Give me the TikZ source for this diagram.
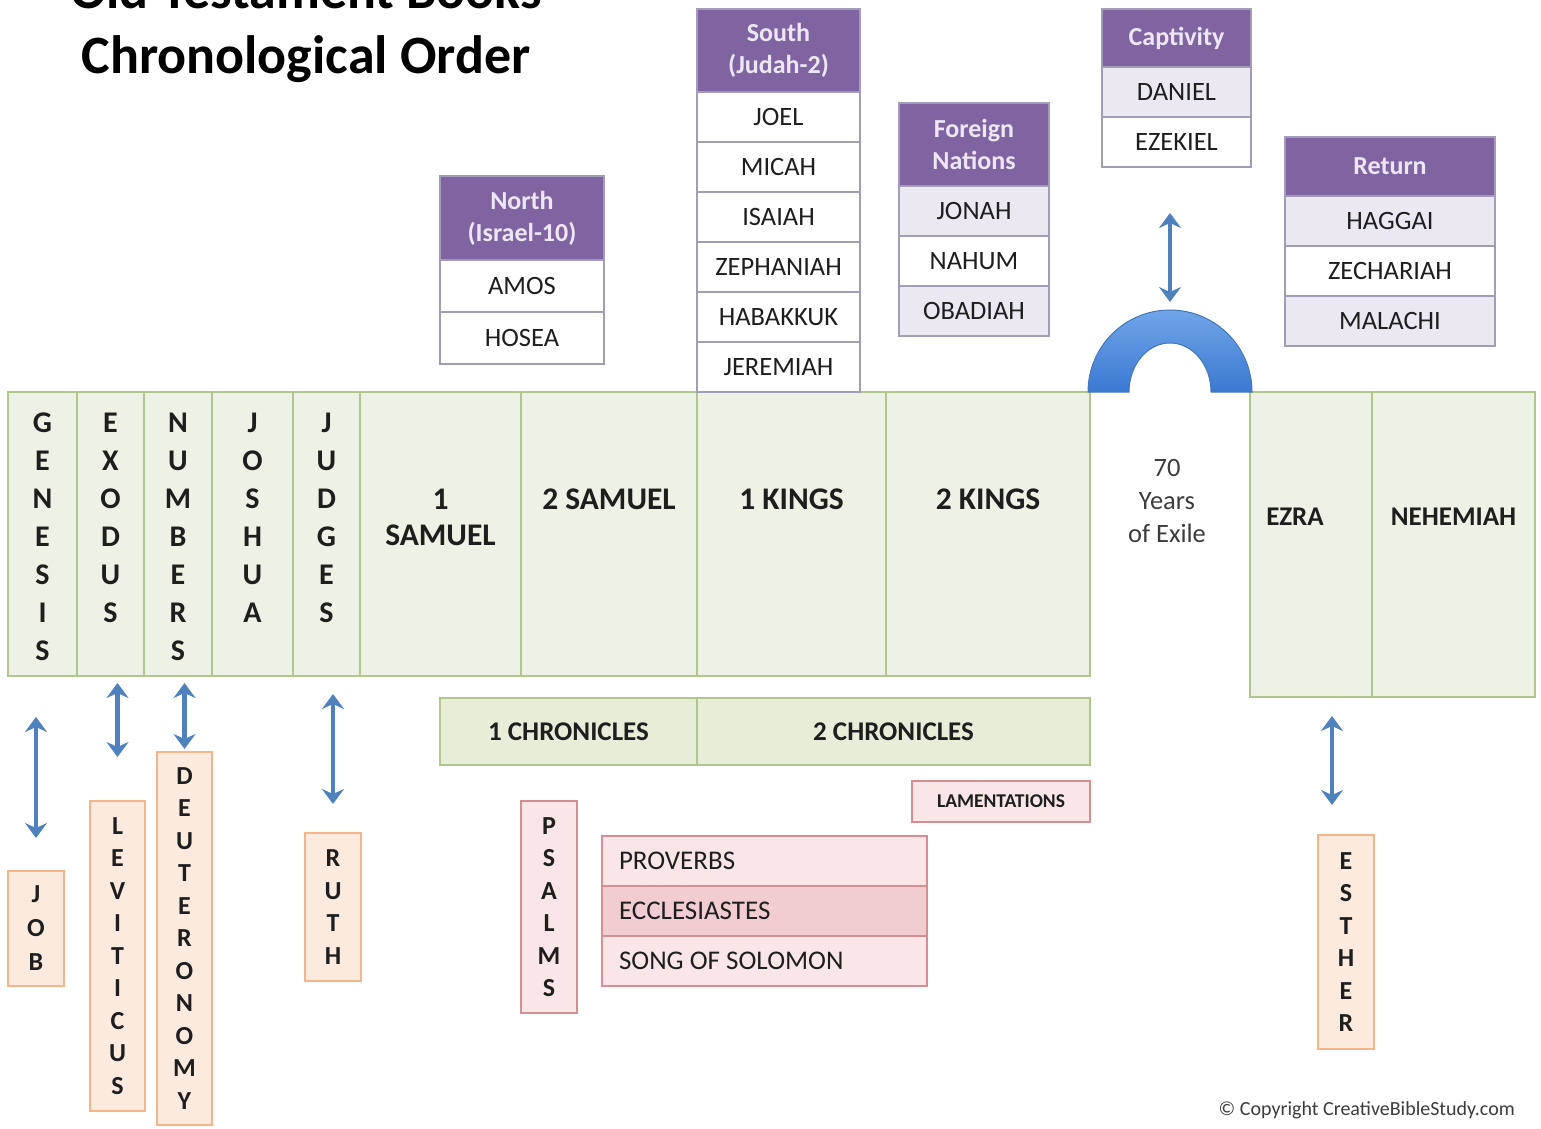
\documentclass[tikz,border=0pt]{standalone}
\usepackage{fontspec}
\setmainfont{Carlito}
\usepackage{tikz}
\usetikzlibrary{arrows.meta,positioning,shadings}
\definecolor{bandfill}{HTML}{EEF1E5}
\definecolor{banddraw}{HTML}{B0C68A}
\definecolor{chronfill}{HTML}{E7EDD9}
\definecolor{purplehdr}{HTML}{8064A2}
\definecolor{hdrtext}{HTML}{EDE7F5}
\definecolor{tabledraw}{HTML}{A29DB6}
\definecolor{lavrow}{HTML}{EBE8F1}
\definecolor{pinkfill}{HTML}{FBE6E7}
\definecolor{pinkdark}{HTML}{F1CDD1}
\definecolor{pinkdraw}{HTML}{D58E93}
\definecolor{orangefill}{HTML}{FDEADF}
\definecolor{orangedraw}{HTML}{F3B589}
\definecolor{arrowblue}{HTML}{4F81BD}
\definecolor{archlight}{HTML}{70A5E8}
\definecolor{archdark}{HTML}{3A79D2}
\definecolor{archedge}{HTML}{4676B8}
\definecolor{inktext}{HTML}{1E1E1E}
\definecolor{copygray}{HTML}{3C3C3C}
\newcommand{\fsz}[2]{\fontsize{#1}{#2}\selectfont}
\tikzset{
  bandcol/.style={rectangle,draw=banddraw,fill=bandfill,line width=1.6pt,
    minimum height=284pt,inner sep=0pt,outer sep=0pt},
  vtext/.style={align=center,inner sep=0pt,text=inktext,font=\bfseries\fsz{30}{38}},
  coltext/.style={align=center,inner sep=0pt,text=inktext,font=\bfseries\fsz{31.5}{36}},
  chron/.style={rectangle,draw=banddraw,fill=chronfill,line width=1.6pt,outer sep=0pt,
    minimum height=67pt,text=inktext,font=\bfseries\fsz{27}{30}},
  hdr/.style={rectangle,draw=tabledraw,fill=purplehdr,line width=1.6pt,outer sep=0pt,
    align=center,text=hdrtext,font=\bfseries\fsz{26}{32}},
  tabrow/.style={rectangle,draw=tabledraw,fill=white,line width=1.6pt,outer sep=0pt,
    minimum height=50pt,text=inktext,font=\fsz{26.5}{28}},
  tablav/.style={tabrow,fill=lavrow},
  pinkbox/.style={rectangle,draw=pinkdraw,fill=pinkfill,line width=1.6pt,outer sep=0pt,
    align=center,text=inktext},
  pinkrow/.style={rectangle,draw=pinkdraw,fill=pinkfill,line width=1.6pt,outer sep=0pt,
    text width=291pt,align=left,inner xsep=17pt,minimum height=50pt,
    text=inktext,font=\fsz{27}{30},execute at begin node={\spaceskip=0pt\relax}},
  orangebox/.style={rectangle,draw=orangedraw,fill=orangefill,line width=1.6pt,outer sep=0pt,
    align=center,text=inktext,font=\bfseries\fsz{26}{32.5}},
  dblarrow/.style={{Stealth[length=15pt,width=22pt,inset=5pt]}-{Stealth[length=15pt,width=22pt,inset=5pt]},
    line width=4.5pt,draw=arrowblue},
}

\begin{document}
\begin{tikzpicture}[x=1pt,y=-1pt]
\useasboundingbox (0,0) rectangle (1541,1128);
\clip (0,0) rectangle (1541,1128);

% title
\node[anchor=base,font=\bfseries\fsz{54}{60}] (title1) at (306,8) {Old Testament Books};
\node[anchor=base,font=\bfseries\fsz{54}{60}] (title2) at (306,73) {Chronological Order};

% main band
\node[bandcol,minimum width=69pt,anchor=north west] (gen) at (8,392) {};
\node[bandcol,minimum width=67pt,right=0pt of gen] (exo) {};
\node[bandcol,minimum width=68pt,right=0pt of exo] (num) {};
\node[bandcol,minimum width=81pt,right=0pt of num] (jos) {};
\node[bandcol,minimum width=67pt,right=0pt of jos] (jdg) {};
\node[bandcol,minimum width=161pt,right=0pt of jdg] (sa1) {};
\node[bandcol,minimum width=176pt,right=0pt of sa1] (sa2) {};
\node[bandcol,minimum width=189pt,right=0pt of sa2] (ki1) {};
\node[bandcol,minimum width=204pt,right=0pt of ki1] (ki2) {};
\node[bandcol,minimum width=122pt,minimum height=305pt,anchor=north west] (ezr) at (1250,392) {};
\node[bandcol,minimum width=163pt,minimum height=305pt,right=0pt of ezr] (neh) {};

\node[vtext,below=21pt of gen.north] (gent) {G\\E\\N\\E\\S\\I\\S};
\node[vtext,below=21pt of exo.north] (exot) {E\\X\\O\\D\\U\\S};
\node[vtext,below=21pt of num.north] (numt) {N\\U\\M\\B\\E\\R\\S};
\node[vtext,below=21pt of jos.north] (jost) {J\\O\\S\\H\\U\\A};
\node[vtext,below=21pt of jdg.north] (jdgt) {J\\U\\D\\G\\E\\S};
\node[coltext] (sa1t) at ([yshift=17pt]sa1.center) {1\\SAMUEL};
\node[coltext] (sa2t) at ([yshift=35pt]sa2.center) {2 SAMUEL};
\node[coltext] (ki1t) at ([yshift=35pt]ki1.center) {1 KINGS};
\node[coltext] (ki2t) at ([yshift=35pt]ki2.center) {2 KINGS};
\node[coltext,font=\bfseries\fsz{27}{32}] (ezrt) at ([xshift=-16pt,yshift=28pt]ezr.center) {EZRA};
\node[coltext,font=\bfseries\fsz{27}{32}] (neht) at ([yshift=28pt]neh.center) {NEHEMIAH};
\node[align=center,inner sep=0pt,text=copygray,font=\fsz{26.5}{33}] (exile) at (1167,501) {70\\Years\\of Exile};

% exile arch
\coordinate (archc) at (1170,392);
\shade[top color=archlight,bottom color=archdark,draw=archedge,line width=1pt]
  ([xshift=-82pt]archc) arc[start angle=180,end angle=0,radius=82pt]
  -- ([xshift=41pt]archc) arc[start angle=0,end angle=180,x radius=41pt,y radius=49pt] -- cycle;
\coordinate (archtop) at ([yshift=82pt]archc);

% chronicles
\node[chron,minimum width=257pt,anchor=north west] (chr1) at (440,698) {1 CHRONICLES};
\node[chron,minimum width=393pt,right=0pt of chr1] (chr2) {2 CHRONICLES};

% prophets
\node[hdr,minimum width=164pt,minimum height=84pt,anchor=north west] (nhdr) at (440,176) {North\\(Israel-10)};
\node[tabrow,minimum width=164pt,minimum height=52pt,below=0pt of nhdr] (amos) {AMOS};
\node[tabrow,minimum width=164pt,minimum height=52pt,below=0pt of amos] (hosea) {HOSEA};

\node[hdr,minimum width=163pt,minimum height=83pt,anchor=north west] (shdr) at (697,9) {South\\(Judah-2)};
\node[tabrow,minimum width=163pt,below=0pt of shdr] (joel) {JOEL};
\node[tabrow,minimum width=163pt,below=0pt of joel] (micah) {MICAH};
\node[tabrow,minimum width=163pt,below=0pt of micah] (isaiah) {ISAIAH};
\node[tabrow,minimum width=163pt,below=0pt of isaiah] (zeph) {ZEPHANIAH};
\node[tabrow,minimum width=163pt,below=0pt of zeph] (hab) {HABAKKUK};
\node[tabrow,minimum width=163pt,below=0pt of hab] (jer) {JEREMIAH};

\node[hdr,minimum width=150pt,minimum height=83pt,anchor=north west] (fhdr) at (899,103) {Foreign\\Nations};
\node[tablav,minimum width=150pt,below=0pt of fhdr] (jonah) {JONAH};
\node[tabrow,minimum width=150pt,below=0pt of jonah] (nahum) {NAHUM};
\node[tablav,minimum width=150pt,below=0pt of nahum] (obad) {OBADIAH};

\node[hdr,minimum width=149pt,minimum height=58pt,anchor=north west] (chdr) at (1102,9) {Captivity};
\node[tablav,minimum width=149pt,below=0pt of chdr] (daniel) {DANIEL};
\node[tabrow,minimum width=149pt,below=0pt of daniel] (ezek) {EZEKIEL};

\node[hdr,minimum width=210pt,minimum height=59pt,anchor=north west] (rhdr) at (1285,137) {Return};
\node[tablav,minimum width=210pt,below=0pt of rhdr] (haggai) {HAGGAI};
\node[tabrow,minimum width=210pt,below=0pt of haggai] (zech) {ZECHARIAH};
\node[tablav,minimum width=210pt,below=0pt of zech] (mal) {MALACHI};

% poetry
\node[pinkbox,minimum width=178pt,minimum height=41pt,font=\bfseries\fsz{19.5}{20}] (lam) at (1001,801.5) {LAMENTATIONS};
\node[pinkbox,minimum width=56pt,minimum height=212pt,font=\bfseries\fsz{26}{32.5}] (psa) at (549,907) {P\\S\\A\\L\\M\\S};
\node[pinkrow,anchor=north west] (prov) at (602,836) {PROVERBS};
\node[pinkrow,fill=pinkdark,below=0pt of prov] (eccl) {ECCLESIASTES};
\node[pinkrow,below=0pt of eccl] (song) {SONG OF SOLOMON};

% side books
\node[orangebox,minimum width=56pt,minimum height=115pt,font=\bfseries\fsz{26}{34}] (job) at (36,928.5) {J\\O\\B};
\node[orangebox,minimum width=55pt,minimum height=310pt] (lev) at (117.5,956) {L\\E\\V\\I\\T\\I\\C\\U\\S};
\node[orangebox,minimum width=55pt,minimum height=373pt] (deu) at (184.5,938.5) {D\\E\\U\\T\\E\\R\\O\\N\\O\\M\\Y};
\node[orangebox,minimum width=56pt,minimum height=148pt] (rut) at (333,907) {R\\U\\T\\H};
\node[orangebox,minimum width=56pt,minimum height=214pt] (est) at (1346,942) {E\\S\\T\\H\\E\\R};
\coordinate (estin) at ([xshift=-14pt]est.north);

\draw[dblarrow,shorten <=41pt,shorten >=33pt] (gen.south -| job.north) -- (job.north);
\draw[dblarrow,shorten <=7pt,shorten >=44pt] (exo.south -| lev.north) -- (lev.north);
\draw[dblarrow,shorten <=7pt,shorten >=3pt] (num.south -| deu.north) -- (deu.north);
\draw[dblarrow,shorten <=18pt,shorten >=29pt] (jdg.south -| rut.north) -- (rut.north);
\draw[dblarrow,shorten <=19pt,shorten >=30pt] (ezr.south -| estin) -- (estin);
\draw[dblarrow,shorten <=46pt,shorten >=8pt] (archtop |- ezek.south) -- (archtop);

\node[anchor=base east,inner sep=0pt,text=copygray,font=\fsz{20}{22}] (copy) at (1515,1115) {© Copyright CreativeBibleStudy.com};
\end{tikzpicture}
\end{document}
